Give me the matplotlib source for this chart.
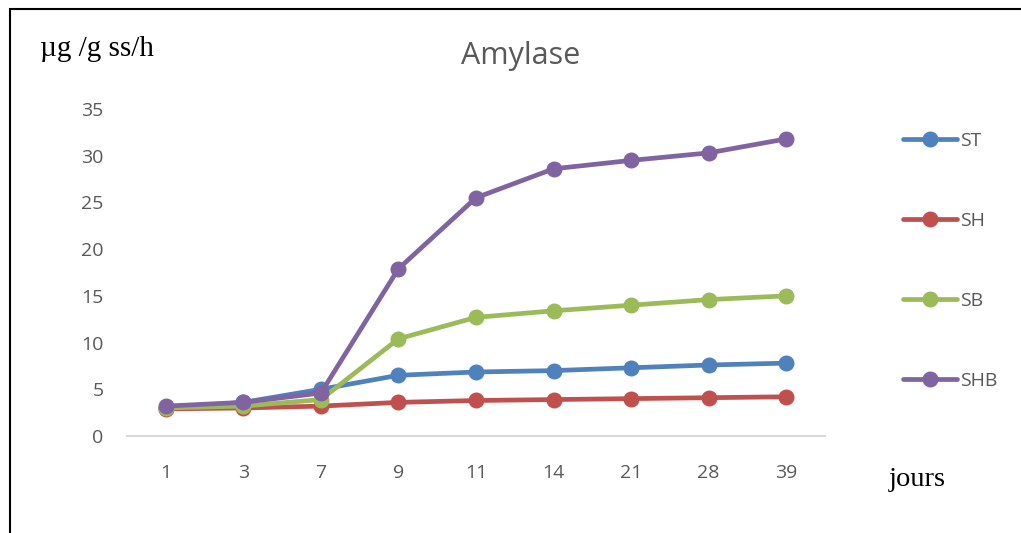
import matplotlib.pyplot as plt
from matplotlib.patches import Rectangle

jours = ['1', '3', '7', '9', '11', '14', '21', '28', '39']
st = [3.0, 3.6, 5.0, 6.5, 6.85, 7.0, 7.3, 7.6, 7.8]
sh = [2.9, 3.0, 3.2, 3.6, 3.8, 3.9, 4.0, 4.1, 4.2]
sb = [3.0, 3.2, 3.9, 10.4, 12.7, 13.4, 14.0, 14.6, 15.0]
shb = [3.2, 3.6, 4.6, 17.9, 25.5, 28.6, 29.5, 30.3, 31.8]

series = [('ST', st, '#4F81BD'), ('SH', sh, '#C0504D'),
          ('SB', sb, '#9BBB59'), ('SHB', shb, '#8064A2')]

plt.rcParams['font.family'] = ['Open Sans', 'DejaVu Sans']

fig = plt.figure(figsize=(10.21, 5.33), dpi=100)
ax = fig.add_axes([127 / 1021, 1 - 436 / 533, (825 - 127) / 1021, (436 - 109) / 533])

x = list(range(len(jours)))
for name, vals, col in series:
    ax.plot(x, vals, color=col, linewidth=3.4, marker='o', markersize=10.5,
            label=name, solid_capstyle='round')

ax.set_xlim(-0.5, len(jours) - 0.5)
ax.set_ylim(0, 35)
ax.set_yticks(range(0, 40, 5))
ax.set_xticks(x)
ax.set_xticklabels(jours)
for s in ['top', 'right', 'left']:
    ax.spines[s].set_visible(False)
ax.spines['bottom'].set_color('#D9D9D9')
ax.spines['bottom'].set_linewidth(1.5)
ax.tick_params(axis='both', length=0, labelsize=14, colors='#595959')
ax.tick_params(axis='x', pad=20)
ax.tick_params(axis='y', pad=17)

fig.text(521 / 1021, 1 - 56 / 533, 'Amylase', ha='center', va='center',
         fontsize=22, color='#595959')
fig.text(40 / 1021, 1 - 49 / 533, 'µg /g ss/h', ha='left', va='center',
         fontsize=21, family='Liberation Serif', color='black')
fig.text(889 / 1021, 1 - 479 / 533, 'jours', ha='left', va='center',
         fontsize=20.5, family='Liberation Serif', color='black')

leg = fig.legend(loc='upper left', bbox_to_anchor=(885 / 1021, 1 - 114 / 533),
                 frameon=False, fontsize=14, labelspacing=3.2, handlelength=2.8,
                 handletextpad=0.15, labelcolor='#595959')

fig.patches.append(Rectangle((10 / 1021, -0.1), 1.2, 1 - 9 / 533 + 0.1,
                             transform=fig.transFigure, fill=False,
                             edgecolor='black', linewidth=1.5))

fig.savefig('out.png', dpi=100)
